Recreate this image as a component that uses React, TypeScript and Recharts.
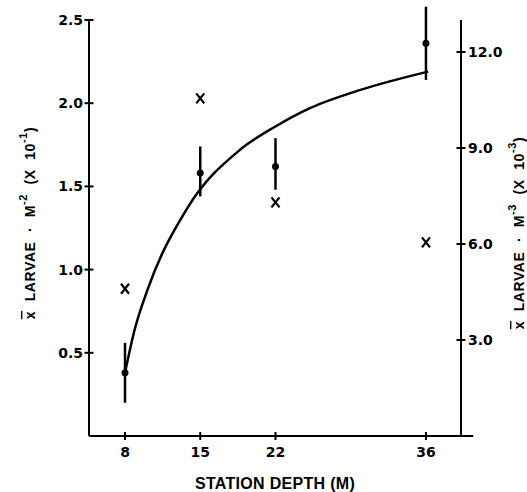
import React from "react";
import {
  ComposedChart,
  XAxis,
  YAxis,
  Line,
  Scatter,
  ErrorBar,
  ReferenceLine,
} from "recharts";

// Station depths (m)
const depths = [8, 15, 22, 36];
// Mean larvae per m^2 (x10^-1) with error-bar limits
const meanM2 = [0.38, 1.58, 1.62, 2.36];
const lowM2 = [0.2, 1.44, 1.48, 2.14];
const highM2 = [0.56, 1.74, 1.79, 2.58];
// Mean larvae per m^3 (x10^-3)
const meanM3 = [4.6, 10.55, 7.3, 6.05];
// Fitted curve
const curveDepth = [8, 8.9, 10.1, 13.8, 18.7, 22.0, 25.2, 29.9, 36.2];
const curveValue = [0.38, 0.64, 0.88, 1.37, 1.72, 1.86, 1.97, 2.08, 2.19];
// Tick labels
const xTicks = [8, 15, 22, 36];
const leftTicks = [0.5, 1.0, 1.5, 2.0, 2.5];
const rightTicks = [3.0, 6.0, 9.0, 12.0];

const m2Data = depths.map((d, i) => ({
  depth: d,
  m2: meanM2[i],
  err: [meanM2[i] - lowM2[i], highM2[i] - meanM2[i]],
}));
const m3Data = depths.map((d, i) => ({ depth: d, m3: meanM3[i] }));
const curveData = curveDepth.map((d, i) => ({ depth: d, fit: curveValue[i] }));

const TICK_FONT = "'DejaVu Sans', sans-serif";
const LABEL_FONT = "'Liberation Sans', Arial, sans-serif";

const LeftTick = (props: any) => {
  const { x, y, payload } = props;
  return (
    <g>
      <line x1={x - 4.5} x2={x + 4.5} y1={y} y2={y} stroke="#000" strokeWidth={2} />
      <text
        x={x - 6}
        y={y}
        dy="0.36em"
        textAnchor="end"
        fontFamily={TICK_FONT}
        fontWeight="bold"
        fontSize={14}
        fill="#000"
      >
        {Number(payload.value).toFixed(1)}
      </text>
    </g>
  );
};

const RightTick = (props: any) => {
  const { x, y, payload } = props;
  return (
    <g>
      <line x1={x - 4.5} x2={x + 4.5} y1={y} y2={y} stroke="#000" strokeWidth={2} />
      <text
        x={x + 7}
        y={y}
        dy="0.36em"
        textAnchor="start"
        fontFamily={TICK_FONT}
        fontWeight="bold"
        fontSize={14}
        fill="#000"
      >
        {Number(payload.value).toFixed(1)}
      </text>
    </g>
  );
};

const BottomTick = (props: any) => {
  const { x, y, payload } = props;
  return (
    <g>
      <line x1={x} x2={x} y1={y - 4} y2={y + 4} stroke="#000" strokeWidth={2} />
      <text
        x={x}
        y={y + 16}
        dy="0.36em"
        textAnchor="middle"
        fontFamily={TICK_FONT}
        fontWeight="bold"
        fontSize={14}
        fill="#000"
      >
        {payload.value}
      </text>
    </g>
  );
};

const DotShape = (props: any) => {
  const { cx, cy } = props;
  return <circle cx={cx} cy={cy} r={3.5} fill="#000" />;
};

const XShape = (props: any) => {
  const { cx, cy } = props;
  return (
    <g stroke="#000" strokeWidth={2.2}>
      <line x1={cx - 4} y1={cy - 5} x2={cx + 4} y2={cy + 5} />
      <line x1={cx + 4} y1={cy - 5} x2={cx - 4} y2={cy + 5} />
    </g>
  );
};

const AxisTitle = ({ cx, cy, sup1, sup2 }: any) => (
  <text
    x={cx}
    y={cy}
    transform={`rotate(-90 ${cx} ${cy})`}
    textAnchor="middle"
    dominantBaseline="central"
    fontFamily={LABEL_FONT}
    fontWeight="bold"
    fontSize={14}
    fill="#000"
    style={{ wordSpacing: "5px", letterSpacing: "0.6px" }}
  >
    <tspan style={{ textDecoration: "overline" }}>x</tspan>
    <tspan> LARVAE · M</tspan>
    <tspan dy={-7} fontSize={11}>{sup1}</tspan>
    <tspan dy={7}> (X 10</tspan>
    <tspan dy={-7} fontSize={11}>{sup2}</tspan>
    <tspan dy={7}>)</tspan>
  </text>
);

export default function App() {
  return (
    <div style={{ position: "absolute", left: 0, top: 0, background: "#fff" }}>
      <ComposedChart
        width={527}
        height={492}
        margin={{ top: 20, right: 0, bottom: 0, left: 0 }}
      >
        <XAxis
          dataKey="depth"
          type="number"
          domain={[4.65, 39.26]}
          ticks={xTicks}
          allowDataOverflow
          axisLine={{ stroke: "#000", strokeWidth: 2 }}
          tickLine={false}
          tickSize={0}
          tickMargin={0}
          tick={<BottomTick />}
          height={56}
          label={{
            content: (p: any) => {
              const vb = p.viewBox;
              return (
                <text
                  x={vb.x + vb.width / 2}
                  y={vb.y + 47}
                  textAnchor="middle"
                  dominantBaseline="central"
                  fontFamily={LABEL_FONT}
                  fontWeight="bold"
                  fontSize={16}
                  fill="#000"
                  style={{ letterSpacing: "0.3px" }}
                >
                  STATION DEPTH (M)
                </text>
              );
            },
          }}
        />
        <YAxis
          yAxisId="left"
          orientation="left"
          type="number"
          domain={[0, 2.5]}
          ticks={leftTicks}
          allowDataOverflow
          width={89}
          axisLine={{ stroke: "#000", strokeWidth: 2 }}
          tickLine={false}
          tickSize={0}
          tickMargin={0}
          tick={<LeftTick />}
          label={{
            content: (p: any) => {
              const vb = p.viewBox;
              return <AxisTitle cx={vb.x + 30} cy={223} sup1="-2" sup2="-1" />;
            },
          }}
        />
        <YAxis
          yAxisId="right"
          orientation="right"
          type="number"
          domain={[0, 13]}
          ticks={rightTicks}
          allowDataOverflow
          width={66}
          axisLine={{ stroke: "#000", strokeWidth: 2 }}
          tickLine={false}
          tickSize={0}
          tickMargin={0}
          tick={<RightTick />}
          label={{
            content: (p: any) => {
              const vb = p.viewBox;
              return <AxisTitle cx={vb.x + 58} cy={233} sup1="-3" sup2="-3" />;
            },
          }}
        />
        <ReferenceLine
          yAxisId="left"
          segment={[
            { x: 39.26, y: 0 },
            { x: 40.4, y: 0 },
          ]}
          stroke="#000"
          strokeWidth={2}
          ifOverflow="visible"
        />
        <Line
          yAxisId="left"
          data={curveData}
          dataKey="fit"
          type="monotone"
          stroke="#000"
          strokeWidth={2.5}
          dot={false}
          activeDot={false}
          isAnimationActive={false}
        />
        <Scatter
          yAxisId="left"
          data={m2Data}
          dataKey="m2"
          shape={<DotShape />}
          isAnimationActive={false}
        >
          <ErrorBar dataKey="err" direction="y" width={0} stroke="#000" strokeWidth={2.5} />
        </Scatter>
        <Scatter
          yAxisId="right"
          data={m3Data}
          dataKey="m3"
          shape={<XShape />}
          isAnimationActive={false}
        />
      </ComposedChart>
    </div>
  );
}
